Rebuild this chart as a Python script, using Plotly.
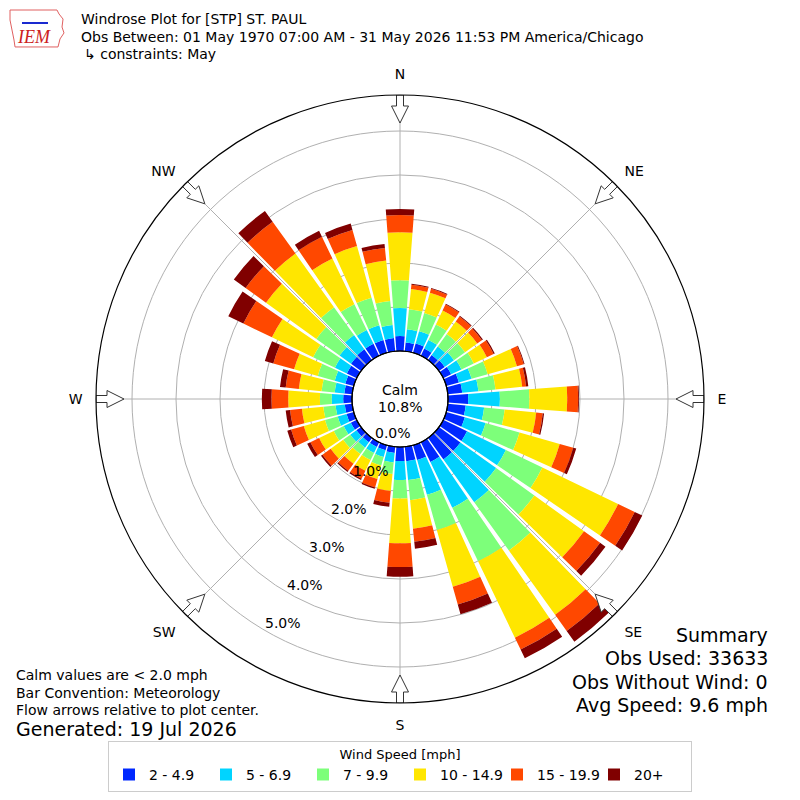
import math
import plotly.graph_objects as go

# wind direction bins (deg, meteorology) and frequency [%] per speed bin
directions = list(range(0, 360, 10))
speed_bins = ["2 - 4.9", "5 - 6.9", "7 - 9.9", "10 - 14.9", "15 - 19.9", "20+"]
bin_colors = ["#0028ff", "#00d4ff", "#7dff7a", "#ffe600", "#ff4800", "#800000"]

spd_2_5 = [0.34, 0.20, 0.22, 0.18, 0.14, 0.16, 0.20, 0.30, 0.33, 0.46, 0.41, 0.44,
           0.60, 0.60, 0.60, 0.50, 0.35, 0.33, 0.32, 0.14, 0.12, 0.12, 0.12, 0.13,
           0.15, 0.17, 0.17, 0.20, 0.18, 0.20, 0.25, 0.28, 0.30, 0.30, 0.30, 0.30]
spd_5_7 = [0.64, 0.30, 0.29, 0.22, 0.24, 0.26, 0.26, 0.30, 0.37, 0.72, 0.42, 0.49,
           0.98, 1.00, 1.20, 1.15, 0.82, 0.43, 0.43, 0.22, 0.16, 0.15, 0.15, 0.17,
           0.18, 0.21, 0.21, 0.26, 0.22, 0.25, 0.30, 0.32, 0.40, 0.35, 0.35, 0.30]
spd_7_10 = [0.63, 0.46, 0.43, 0.39, 0.35, 0.31, 0.31, 0.38, 0.39, 0.67, 0.47, 0.80,
            0.92, 1.07, 1.35, 1.35, 0.83, 0.46, 0.42, 0.26, 0.20, 0.18, 0.18, 0.20,
            0.25, 0.30, 0.28, 0.27, 0.30, 0.40, 0.55, 0.65, 0.78, 0.65, 0.65, 0.55]
spd_10_15 = [1.09, 0.46, 0.48, 0.35, 0.35, 0.34, 0.33, 0.69, 0.61, 0.86, 0.72, 0.95,
             1.91, 1.39, 1.80, 1.93, 1.34, 0.65, 1.02, 0.39, 0.32, 0.27, 0.27, 0.35,
             0.37, 0.50, 0.49, 0.72, 0.52, 0.56, 1.04, 1.41, 1.50, 1.15, 1.22, 0.92]
spd_15_20 = [0.39, 0.10, 0.09, 0.15, 0.14, 0.13, 0.17, 0.16, 0.09, 0.25, 0.15, 0.32,
             0.42, 0.45, 0.45, 0.30, 0.42, 0.30, 0.54, 0.27, 0.20, 0.20, 0.20, 0.23,
             0.22, 0.30, 0.27, 0.38, 0.30, 0.49, 0.72, 0.57, 0.89, 0.55, 0.38, 0.29]
spd_20 = [0.14, 0.02, 0.02, 0.02, 0.02, 0.03, 0.03, 0.02, 0.05, 0.02, 0.03, 0.07,
          0.19, 0.15, 0.30, 0.22, 0.23, 0.16, 0.22, 0.09, 0.03, 0.03, 0.03, 0.04,
          0.08, 0.09, 0.10, 0.22, 0.13, 0.20, 0.38, 0.33, 0.30, 0.15, 0.15, 0.09]
speed_values = [spd_2_5, spd_5_7, spd_7_10, spd_10_15, spd_15_20, spd_20]

compass_deg = [0, 45, 90, 135, 180, 225, 270, 315]
compass_txt = ["N", "NE", "E", "SE", "S", "SW", "W", "NW"]
radial_ticks = [0, 1, 2, 3, 4, 5]
calm_pct = 10.8

# page geometry (px); the page body adds an 8px margin around the figure
W = H = 800
OFF = 8
CX, CY, R_OUT, R_HOLE = 400, 399, 304, 48
PX_PER_PCT = 44.0
r_max = (R_OUT - R_HOLE) / PX_PER_PCT


def px(x, y):
    # page pixel -> paper coords
    return (x - OFF) / W, 1 - (y - OFF) / H


def arrow_poly(direction):
    pts = [(304, -3.5), (293, -3.5), (293, -8.5), (276, 0), (293, 8.5), (293, 3.5),
           (304, 3.5), (304, -3.5)]
    rr, tt = [], []
    for d, w in pts:
        rr.append((math.hypot(d, w) - R_HOLE) / PX_PER_PCT)
        tt.append(direction + math.degrees(math.atan2(w, d)))
    return rr, tt


fig = go.Figure()
for name, vals, col in zip(speed_bins, speed_values, bin_colors):
    fig.add_trace(go.Barpolar(r=vals, theta=directions, width=8.6, name=name,
                              marker=dict(color=col, line=dict(width=0))))

for d in compass_deg:
    rr, tt = arrow_poly(d)
    fig.add_trace(go.Scatterpolar(r=rr, theta=tt, mode="lines", fill="toself",
                                  fillcolor="white", line=dict(color="#333333", width=1),
                                  showlegend=False, hoverinfo="skip", cliponaxis=False))

x0, y1 = px(CX - R_OUT, CY - R_OUT)
x1, y0 = px(CX + R_OUT, CY + R_OUT)
lx, ly = px(400, 741)

fig.update_layout(
    width=W, height=H,
    margin=dict(l=0, r=0, t=0, b=0),
    paper_bgcolor="white",
    font=dict(family="DejaVu Sans", size=14, color="black"),
    polar=dict(
        domain=dict(x=[x0, x1], y=[y0, y1]),
        bgcolor="white",
        hole=R_HOLE / R_OUT,
        barmode="stack",
        angularaxis=dict(rotation=90, direction="clockwise", tickmode="array",
                         tickvals=compass_deg, ticktext=compass_txt,
                         showgrid=True, gridcolor="#b0b0b0", gridwidth=1,
                         showline=True, linecolor="black", linewidth=1.2,
                         ticks="outside", ticklen=10, tickcolor="rgba(0,0,0,0)",
                         tickfont=dict(size=14), layer="above traces"),
        radialaxis=dict(range=[0, r_max], tickmode="array", tickvals=radial_ticks,
                        showticklabels=False, showline=False, ticks="",
                        showgrid=True, gridcolor="#b0b0b0", gridwidth=1,
                        angle=240, layer="above traces"),
    ),
    legend=dict(orientation="h", x=lx, xanchor="center", y=ly, yanchor="top",
                title=dict(text="Wind Speed [mph]", side="top center", font=dict(size=13)),
                font=dict(size=14), bordercolor="#cccccc", borderwidth=1,
                bgcolor="white", entrywidth=52, traceorder="normal"),
)

# calm circle outline
cx0, cy1 = px(CX - R_HOLE, CY - R_HOLE)
cx1, cy0 = px(CX + R_HOLE, CY + R_HOLE)
fig.add_shape(type="circle", xref="paper", yref="paper", x0=cx0, x1=cx1, y0=cy0, y1=cy1,
              line=dict(color="black", width=1.2))

# radial tick labels along the 210 deg line
u = (math.sin(math.radians(210)), -math.cos(math.radians(210)))
for v in radial_ticks:
    rp = R_HOLE + PX_PER_PCT * v
    tx, ty = px(CX + rp * u[0] + 17, CY + rp * u[1] - 7.6)
    fig.add_annotation(x=tx, y=ty, xref="paper", yref="paper", text=f"{v:.1f}%",
                       showarrow=False, xanchor="center", yanchor="middle",
                       font=dict(size=14))

# IEM logo (rough)
outline = [(10, 10), (57, 10), (59, 14), (63, 19), (62, 27), (64, 33), (60, 39),
           (58, 47), (15, 47), (14, 40), (12, 30), (10, 20)]
path = "M" + " L".join("{:.4f},{:.4f}".format(*px(x, y)) for x, y in outline) + " Z"
fig.add_shape(type="path", xref="paper", yref="paper", path=path,
              line=dict(color="#e06060", width=1))
bx0, by = px(22, 23)
bx1, _ = px(48, 23)
fig.add_shape(type="line", xref="paper", yref="paper", x0=bx0, x1=bx1, y0=by, y1=by,
              line=dict(color="#1a2ad0", width=2))

texts = [
    (15, 37, "<i>IEM</i>", "left", 18, "Liberation Serif", "#cc2020"),
    (79, 19, "Windrose Plot for [STP] ST. PAUL", "left", 14, None, "black"),
    (79, 37, "Obs Between: 01 May 1970 07:00 AM - 31 May 2026 11:53 PM America/Chicago", "left", 14, None, "black"),
    (82, 54, "\u21b3 constraints: May", "left", 14, None, "black"),
    (14, 675, "Calm values are < 2.0 mph", "left", 14, None, "black"),
    (14, 693, "Bar Convention: Meteorology", "left", 14, None, "black"),
    (14, 710, "Flow arrows relative to plot center.", "left", 14, None, "black"),
    (14, 729, "Generated: 19 Jul 2026", "left", 19, None, "black"),
    (770, 635, "Summary", "right", 19, None, "black"),
    (770, 658, "Obs Used: 33633", "right", 19, None, "black"),
    (770, 682, "Obs Without Wind: 0", "right", 19, None, "black"),
    (770, 705, "Avg Speed: 9.6 mph", "right", 19, None, "black"),
    (400, 390, "Calm", "center", 14, None, "black"),
    (400, 407, f"{calm_pct:.1f}%", "center", 14, None, "black"),
]
for x, y, t, anc, sz, fam, col in texts:
    f = dict(size=sz, color=col)
    if fam:
        f["family"] = fam
    ax, ay = px(x, y)
    fig.add_annotation(x=ax, y=ay, xref="paper", yref="paper", text=t,
                       showarrow=False, xanchor=anc, yanchor="middle", font=f)

fig.write_html("out.html")
